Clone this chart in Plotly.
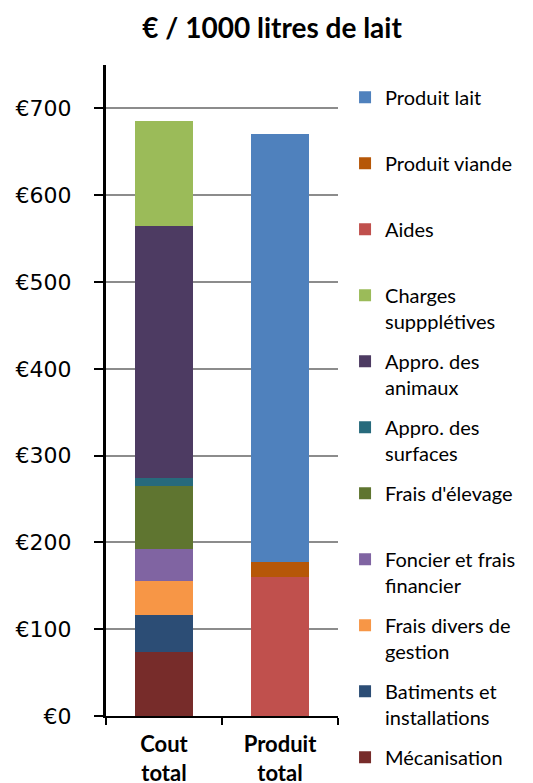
import plotly.graph_objects as go

categories = ["Cout total", "Produit total"]
tick_labels = ["<b>Cout</b><br><b>total</b>", "<b>Produit</b><br><b>total</b>"]

# series listed bottom-to-top of the stacks
series_names = [
    "Mécanisation",
    "Batiments et<br>installations",
    "Frais divers de<br>gestion",
    "Foncier et frais<br>financier",
    "Frais d'élevage",
    "Appro. des<br>surfaces",
    "Appro. des<br>animaux",
    "Charges<br>suppplétives",
    "Aides",
    "Produit viande",
    "Produit lait",
]
series_values = [
    [74, None],
    [42, None],
    [39, None],
    [37, None],
    [73, None],
    [9, None],
    [290, None],
    [122, None],
    [None, 160],
    [None, 18],
    [None, 492],
]
series_colors = [
    "#772C2A", "#2C4D75", "#F79646", "#8064A2", "#5F7530",
    "#276A7C", "#4D3B62", "#9BBB59", "#C0504D", "#B65708", "#4F81BD",
]
y_ticks = [0, 100, 200, 300, 400, 500, 600, 700]
y_tick_text = ["€0", "€100", "€200", "€300", "€400", "€500", "€600", "€700"]

fig = go.Figure()
n = len(series_names)
for i, (name, vals, col) in enumerate(zip(series_names, series_values, series_colors)):
    label = name if ("<br>" in name or i == 0) else name + "<br>&nbsp;"
    fig.add_trace(go.Bar(
        x=categories, y=vals, name=label, marker_color=col,
        marker_line_width=0, legendgroup=name, legendrank=1000 + (n - i),
        legend="legend" if i >= 5 else "legend2",
    ))

legend_common = dict(
    xanchor="left", yanchor="top", xref="container", yref="container",
    traceorder="grouped", tracegroupgap=11, valign="top", maxheight=0.95,
    font=dict(family="Lato", size=20, color="black"),
    itemclick=False, itemdoubleclick=False,
)

fig.update_layout(
    width=525, height=775,
    barmode="stack", bargap=0.5,
    plot_bgcolor="white", paper_bgcolor="white",
    margin=dict(l=98, r=195, t=57, b=67),
    title=dict(text="<b>€ / 1000 litres de lait</b>", x=0.503, xanchor="center",
               y=0.974, yanchor="middle",
               font=dict(family="Lato", size=28, color="black")),
    legend=dict(x=0.642, y=0.910, **legend_common),
    legend2=dict(x=0.642, y=0.399, **legend_common),
    xaxis=dict(
        tickmode="array", tickvals=categories, ticktext=tick_labels,
        tickson="boundaries", ticks="outside", ticklen=7, tickwidth=2,
        tickcolor="black", showline=True, linecolor="black", linewidth=2,
        tickfont=dict(family="Lato", size=22, color="black"),
        ticklabelstandoff=8, range=[-0.5, 1.5], automargin=False,
    ),
    yaxis=dict(
        range=[0, 750], tickvals=y_ticks, ticktext=y_tick_text,
        ticks="outside", ticklen=9, tickwidth=2, tickcolor="black",
        showline=True, linecolor="black", linewidth=3,
        showgrid=True, gridcolor="#8c8c8c", gridwidth=1.5,
        tickfont=dict(family="DejaVu Sans", size=22, color="black"),
        ticklabelstandoff=18, zeroline=False, automargin=False,
    ),
    yaxis2=dict(
        overlaying="y", range=[0, 750], tickvals=y_ticks, ticks="inside",
        ticklen=9, tickwidth=2, tickcolor="black", showticklabels=False,
        showgrid=False, zeroline=False, showline=False, automargin=False,
    ),
)
fig.write_html("out.html")
